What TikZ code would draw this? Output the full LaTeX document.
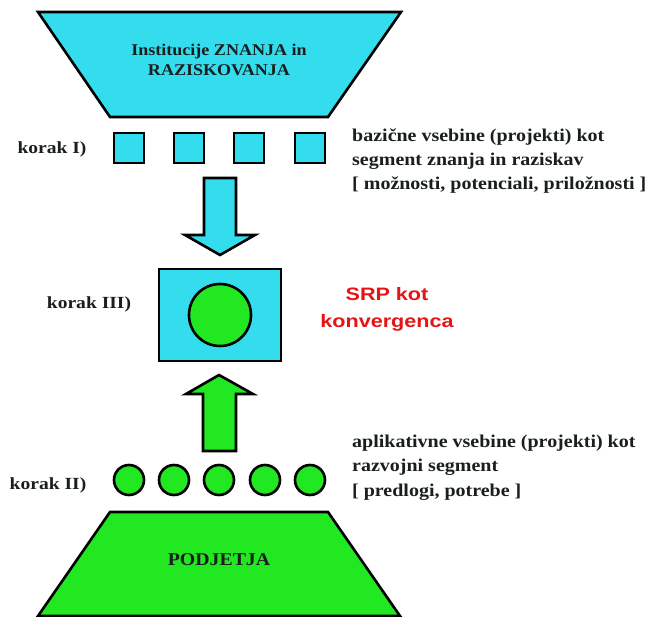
\documentclass[tikz,border=0pt]{standalone}
\usepackage{fontspec}
\setmainfont{Liberation Serif}
\newfontfamily\arialf{Liberation Sans}
\usetikzlibrary{calc}
\definecolor{cy}{RGB}{51,221,238}
\definecolor{gr}{RGB}{34,232,34}
\definecolor{srpred}{RGB}{230,20,20}
\definecolor{txt}{RGB}{25,30,30}
\tikzset{
  x=1pt,y=-1pt,
  shp/.style={draw=black,line width=2.6pt,line join=miter},
  sq/.style={shp,fill=cy,minimum width=30pt,minimum height=30pt,inner sep=0pt,rectangle},
  dot/.style={shp,fill=gr,circle,minimum size=30pt,inner sep=0pt},
  lbl/.style={font=\bfseries\fontsize{17}{22}\selectfont,text=txt,xscale=1.15,inner sep=0pt},
  side/.style={font=\bfseries\fontsize{18}{24.5}\selectfont,text=txt,xscale=1.11,inner sep=0pt,anchor=west,align=left},
  intext/.style={font=\bfseries\fontsize{16.4}{20.5}\selectfont,text=txt,align=center,xscale=1.1,inner sep=0pt},
}
\begin{document}
\begin{tikzpicture}
\useasboundingbox (0,0) rectangle (651,617);
% top trapezoid
\draw[shp,fill=cy] (38,12) -- (401,12) -- (328,117) -- (110,117) -- cycle;
\node[intext] (inst) at (219,60) {Institucije ZNANJA in\\RAZISKOVANJA};
% squares
\foreach \i/\xx in {1/129,2/189,3/249,4/310}
  \node[sq] (s\i) at (\xx,148) {};
\node[lbl] (k1) at (52,149) {korak I)};
% down arrow
\draw[shp,fill=cy] (204,178) -- (236,178) -- (236,235) -- (255,235) -- (220,255) -- (185,235) -- (204,235) -- cycle;
% middle box
\node[shp,fill=cy,rectangle,minimum width=122pt,minimum height=92pt,inner sep=0pt] (box) at (220,315) {};
\node[shp,fill=gr,circle,minimum size=62pt,inner sep=0pt] (core) at (box.center) {};
\node[lbl] (k3) at (89,304) {korak III)};
\node[font=\arialf\bfseries\fontsize{18}{27}\selectfont,text=srpred,align=center,xscale=1.2,inner sep=0pt] (srp) at (387,309) {SRP kot\\konvergenca};
% up arrow
\draw[shp,fill=gr] (203,451) -- (236,451) -- (236,394) -- (253,394) -- (219,375) -- (186,394) -- (203,394) -- cycle;
% circles
\foreach \i/\xx in {1/129,2/174,3/219,4/265,5/310}
  \node[dot] (c\i) at (\xx,480) {};
\node[lbl] (k2) at (48,485) {korak II)};
% bottom trapezoid
\draw[shp,fill=gr] (110,512) -- (328,512) -- (400,616) -- (38,616) -- cycle;
\node[intext,font=\bfseries\fontsize{18}{22}\selectfont] (pod) at (219,560) {PODJETJA};
% right texts
\node[side] (t1) at (352,149) {bazične vsebine (projekti) kot\\segment znanja in raziskav};
\node[side] (t1b) at (352,185) {[ možnosti, potenciali, priložnosti ]};
\node[side] (t2) at (352,455) {aplikativne vsebine (projekti) kot\\razvojni segment};
\node[side] (t2b) at (352,492) {[ predlogi, potrebe ]};
\end{tikzpicture}
\end{document}
